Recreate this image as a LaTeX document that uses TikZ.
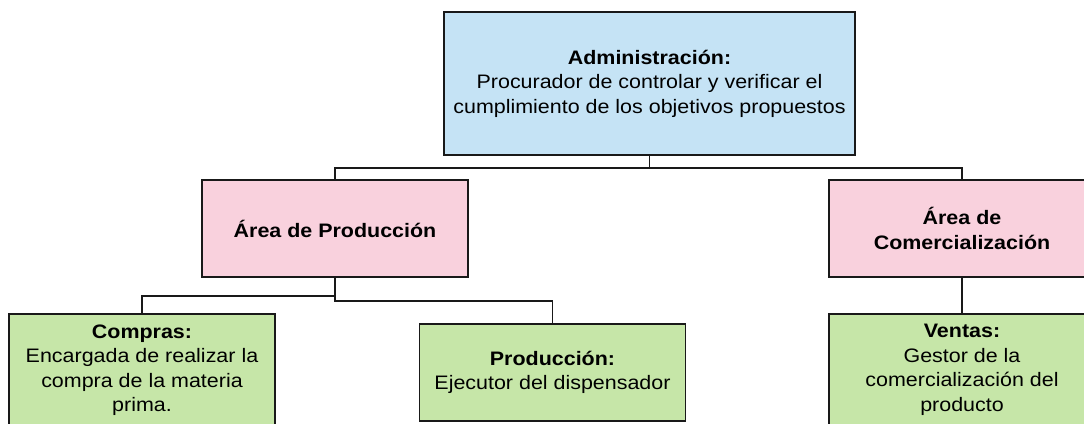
\documentclass[tikz,border=0pt]{standalone}
\usepackage{fontspec}
\setmainfont{Liberation Sans}[FakeStretch=1.1]
\definecolor{adminblue}{RGB}{197,227,245}
\definecolor{areapink}{RGB}{249,209,221}
\definecolor{taskgreen}{RGB}{198,230,168}

\begin{document}
\begin{tikzpicture}[x=1pt, y=-1pt,
            box/.style={rectangle, draw=black!90, line width=1.8pt, align=center, inner sep=0pt,
                        minimum width=266pt, minimum height=97pt, font=\fontsize{19.5}{24.5}\selectfont},
            link/.style={draw=black!90, line width=1.8pt}]
        \useasboundingbox (0,0) rectangle (1084,423);
        \clip (0,0) rectangle (1084,423);
        \node[box, fill=adminblue, minimum width=411pt, minimum height=143pt] (admin) at (649.5,83.5)
            {\textbf{Administración:}\\Procurador de controlar y verificar el\\cumplimiento de los objetivos propuestos};
        \node[box, fill=areapink] (prodarea) at (335,228.5) {\textbf{Área de Producción}};
        \node[box, fill=areapink] (comarea) at (962,228.5) {\textbf{Área de}\\\textbf{Comercialización}};
        \node[box, fill=taskgreen, minimum height=112pt] (compras) at (142,370)
            {\textbf{Compras:}\\Encargada de realizar la\\compra de la materia\\prima.};
        \node[box, fill=taskgreen] (produccion) at (552.5,372.5) {\textbf{Producción:}\\Ejecutor del dispensador};
        \node[box, fill=taskgreen, minimum height=112pt] (ventas) at (962,370)
            {\textbf{Ventas:}\\Gestor de la\\comercialización del\\producto};
        \draw[link] (admin.south) -- ++(0,12) -| (prodarea.north);
        \draw[link] (admin.south) -- ++(0,12) -| (comarea.north);
        \draw[link] (prodarea.south) -- ++(0,18) -| (compras.north);
        \draw[link] (prodarea.south) -- ++(0,23) -| (produccion.north);
        \draw[link] (comarea.south) -- (ventas.north);
    \end{tikzpicture}
\end{document}
